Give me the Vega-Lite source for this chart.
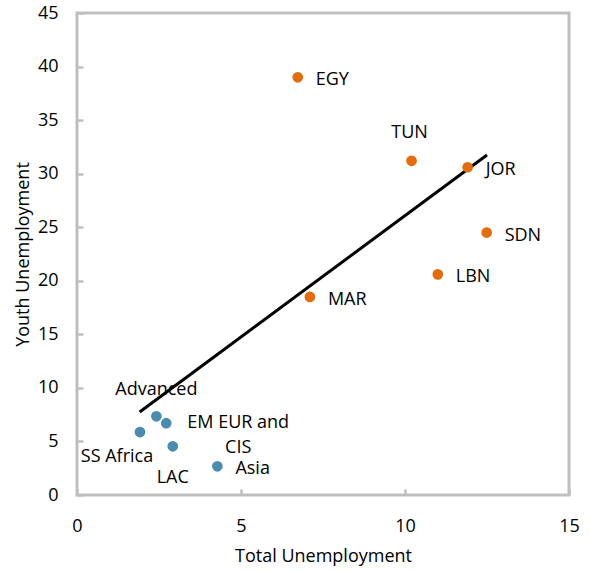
{
  "$schema": "https://vega.github.io/schema/vega-lite/v6.json",
  "autosize": {"type": "none"},
  "padding": {"left": 77, "top": 13, "right": 21, "bottom": 77},
  "width": 492,
  "height": 482,
  "datasets": {
    "points": [
      {"name": "EGY", "group": "MENA", "total": 6.73, "youth": 39.0},
      {"name": "TUN", "group": "MENA", "total": 10.2, "youth": 31.2},
      {"name": "JOR", "group": "MENA", "total": 11.91, "youth": 30.6},
      {"name": "SDN", "group": "MENA", "total": 12.49, "youth": 24.5},
      {"name": "LBN", "group": "MENA", "total": 11.0, "youth": 20.6},
      {"name": "MAR", "group": "MENA", "total": 7.1, "youth": 18.5},
      {"name": "Advanced", "group": "Other", "total": 2.42, "youth": 7.35},
      {"name": "EM EUR and\nCIS", "group": "Other", "total": 2.72, "youth": 6.7},
      {"name": "SS Africa", "group": "Other", "total": 1.92, "youth": 5.88},
      {"name": "LAC", "group": "Other", "total": 2.92, "youth": 4.55},
      {"name": "Asia", "group": "Other", "total": 4.28, "youth": 2.68}
    ],
    "trend": [
      {"total": 1.91, "youth": 7.75},
      {"total": 12.5, "youth": 31.75}
    ]
  },
  "encoding": {
    "x": {"field": "total", "type": "quantitative", "title": "Total Unemployment",
      "scale": {"domain": [0, 15], "nice": false},
      "axis": {"values": [0, 5, 10, 15], "tickSize": -6, "labelPadding": 28, "titlePadding": 12, "labelFlush": false}},
    "y": {"field": "youth", "type": "quantitative", "title": "Youth Unemployment",
      "scale": {"domain": [0, 45], "nice": false},
      "axis": {"values": [0, 5, 10, 15, 20, 25, 30, 35, 40, 45], "tickSize": -6, "labelPadding": 25, "titlePadding": 5, "labelFlush": false}}
  },
  "layer": [
    {
      "data": {"name": "trend"},
      "mark": {"type": "line", "color": "#000000", "strokeWidth": 3},
      "encoding": {}
    },
    {
      "data": {"name": "points"},
      "mark": {"type": "circle", "size": 115, "opacity": 1},
      "encoding": {
        "color": {"field": "group", "type": "nominal",
          "scale": {"domain": ["MENA", "Other"], "range": ["#E46C0A", "#4A8BB0"]},
          "legend": null}
      }
    },
    {
      "data": {"name": "points"},
      "transform": [{"filter": {"field": "name", "oneOf": ["EGY", "JOR", "SDN", "LBN", "MAR", "Asia"]}}],
      "mark": {"type": "text", "align": "left", "baseline": "middle", "dx": 18, "dy": 3, "fontSize": 18, "color": "#000000"},
      "encoding": {"text": {"field": "name"}}
    },
    {
      "data": {"name": "points"},
      "transform": [{"filter": {"field": "name", "oneOf": ["TUN"]}}],
      "mark": {"type": "text", "align": "center", "baseline": "middle", "dx": -2, "dy": -28, "fontSize": 18, "color": "#000000"},
      "encoding": {"text": {"field": "name"}}
    },
    {
      "data": {"name": "points"},
      "transform": [{"filter": {"field": "name", "oneOf": ["Advanced"]}}],
      "mark": {"type": "text", "align": "center", "baseline": "middle", "dx": 0, "dy": -26, "fontSize": 18, "color": "#000000"},
      "encoding": {"text": {"field": "name"}}
    },
    {
      "data": {"name": "points"},
      "transform": [{"filter": {"field": "name", "oneOf": ["EM EUR and\nCIS"]}}],
      "mark": {"type": "text", "align": "center", "baseline": "middle", "dx": 72, "dy": 0, "lineBreak": "\n", "lineHeight": 25, "fontSize": 18, "color": "#000000"},
      "encoding": {"text": {"field": "name"}}
    },
    {
      "data": {"name": "points"},
      "transform": [{"filter": {"field": "name", "oneOf": ["SS Africa"]}}],
      "mark": {"type": "text", "align": "center", "baseline": "middle", "dx": -23, "dy": 25, "fontSize": 18, "color": "#000000"},
      "encoding": {"text": {"field": "name"}}
    },
    {
      "data": {"name": "points"},
      "transform": [{"filter": {"field": "name", "oneOf": ["LAC"]}}],
      "mark": {"type": "text", "align": "center", "baseline": "middle", "dx": 0, "dy": 32, "fontSize": 18, "color": "#000000"},
      "encoding": {"text": {"field": "name"}}
    }
  ],
  "config": {
    "font": "Open Sans",
    "view": {"stroke": "#BFBFBF", "strokeWidth": 3},
    "axis": {
      "domain": false,
      "grid": false,
      "tickColor": "#BFBFBF",
      "tickWidth": 2.5,
      "labelFont": "Open Sans",
      "labelFontSize": 18,
      "labelColor": "#000000",
      "titleFont": "Open Sans",
      "titleFontSize": 18,
      "titleFontWeight": "normal",
      "titleColor": "#000000"
    }
  }
}
